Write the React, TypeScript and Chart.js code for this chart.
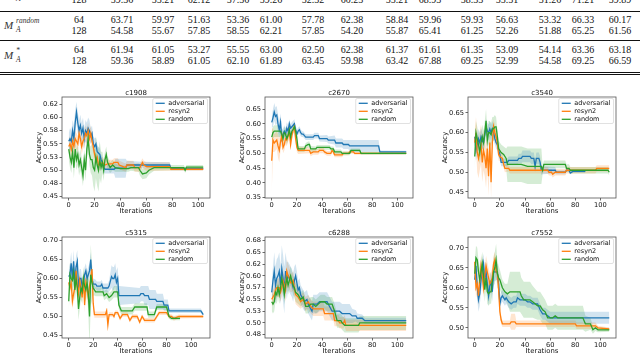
import React, { useEffect, useRef } from "react";
import { Chart, registerables } from "chart.js";

Chart.register(...registerables);

type P = [number, number, number]; // iteration, mean accuracy, half spread of band

// ---------------- table data ----------------
const tableCutRow128 = ["59.36", "55.21", "62.12", "57.36", "59.26", "52.32", "60.23", "55.21", "68.93", "58.33", "55.51", "51.26", "71.21", "59.89"];
const tableRandom64 = ["63.71", "59.97", "51.63", "53.36", "61.00", "57.78", "62.38", "58.84", "59.96", "59.93", "56.63", "53.32", "66.33", "60.17"];
const tableRandom128 = ["54.58", "55.67", "57.85", "58.55", "62.21", "57.85", "54.20", "55.87", "65.41", "61.25", "52.26", "51.88", "65.25", "61.56"];
const tableStar64 = ["61.94", "61.05", "53.27", "55.55", "63.00", "62.50", "62.38", "61.37", "61.61", "61.35", "53.09", "54.14", "63.36", "63.18"];
const tableStar128 = ["59.36", "58.89", "61.05", "62.10", "61.89", "63.45", "59.98", "63.42", "67.88", "69.25", "52.99", "54.58", "69.25", "66.59"];
const tableSizes = ["64", "128"];

// ---------------- chart data ----------------
const seriesNames = ["adversarial", "resyn2", "random"];
const seriesColors = ["#1f77b4", "#ff7f0e", "#2ca02c"];
const xTickValues = [0, 20, 40, 60, 80, 100];

const c1908Adversarial: P[] = [[0,.555,.015],[1,.56,.02],[2,.555,.02],[3,.575,.02],[4,.56,.025],[5,.59,.025],[6,.61,.02],[7,.59,.02],[8,.575,.02],[9,.585,.02],[10,.57,.02],[11,.58,.02],[12,.56,.02],[13,.575,.02],[14,.57,.02],[15,.58,.02],[16,.575,.02],[17,.565,.015],[18,.57,.015],[19,.55,.015],[20,.545,.015],[21,.55,.012],[22,.535,.012],[24,.53,.012],[25,.52,.01],[26,.515,.01],[27,.505,.01],[28,.502,.008],[35,.502,.008],[36,.504,.018],[44,.504,.018],[45,.51,.008],[56,.51,.006],[57,.51,.006],[78,.51,.005],[79,.503,.003],[104,.503,.003]];
const c1908Resyn2: P[] = [[0,.545,.015],[1,.55,.015],[2,.54,.015],[3,.555,.015],[4,.545,.015],[5,.56,.015],[6,.555,.015],[7,.55,.015],[8,.57,.015],[9,.56,.015],[10,.545,.015],[11,.555,.015],[12,.56,.015],[13,.57,.015],[14,.565,.015],[15,.575,.015],[16,.56,.015],[17,.57,.015],[18,.555,.012],[19,.545,.012],[20,.53,.012],[21,.52,.01],[22,.525,.01],[23,.51,.01],[24,.51,.01],[26,.515,.01],[28,.51,.008],[30,.512,.008],[34,.512,.008],[35,.515,.008],[38,.515,.008],[39,.51,.008],[44,.505,.008],[45,.51,.008],[50,.51,.008],[51,.505,.008],[55,.505,.008],[56,.51,.008],[57,.515,.008],[58,.51,.008],[60,.507,.008],[78,.507,.008],[79,.502,.003],[104,.502,.003]];
const c1908Random: P[] = [[0,.54,.02],[1,.525,.02],[2,.515,.02],[3,.535,.02],[4,.505,.02],[5,.54,.02],[6,.52,.02],[7,.53,.02],[8,.51,.02],[9,.52,.02],[10,.505,.02],[11,.49,.02],[12,.52,.02],[13,.50,.02],[14,.54,.02],[15,.56,.02],[16,.53,.02],[17,.52,.025],[18,.52,.03],[19,.505,.035],[20,.50,.04],[21,.525,.04],[22,.51,.04],[23,.50,.04],[24,.52,.035],[25,.505,.03],[26,.515,.02],[27,.50,.02],[28,.52,.015],[29,.53,.015],[30,.515,.012],[32,.505,.01],[34,.51,.01],[36,.505,.008],[40,.503,.006],[46,.503,.006],[48,.505,.006],[54,.505,.008],[55,.50,.01],[57,.493,.01],[60,.495,.01],[62,.50,.008],[66,.505,.006],[80,.505,.005],[89,.505,.005],[90,.50,.005],[91,.506,.004],[104,.506,.004]];

const c2670Adversarial: P[] = [[0,.605,.02],[1,.62,.03],[2,.64,.03],[3,.625,.03],[4,.63,.03],[5,.60,.03],[6,.58,.03],[7,.605,.03],[8,.55,.03],[9,.565,.02],[10,.575,.02],[11,.565,.02],[12,.585,.02],[13,.575,.02],[14,.60,.015],[15,.585,.015],[16,.59,.015],[17,.595,.015],[18,.60,.015],[19,.58,.015],[20,.565,.015],[21,.575,.012],[22,.58,.012],[23,.57,.012],[24,.565,.01],[25,.565,.01],[27,.555,.01],[33,.555,.01],[34,.56,.01],[37,.56,.01],[38,.55,.01],[44,.55,.012],[45,.545,.012],[50,.545,.015],[51,.535,.015],[56,.535,.015],[57,.53,.015],[61,.53,.015],[62,.525,.02],[85,.525,.02],[86,.505,.005],[107,.505,.004]];
const c2670Resyn2: P[] = [[0,.475,.11],[1,.545,.04],[2,.535,.03],[3,.54,.03],[4,.545,.03],[5,.525,.04],[6,.51,.04],[7,.54,.03],[8,.56,.02],[9,.52,.02],[10,.53,.02],[11,.55,.02],[12,.545,.02],[13,.56,.02],[14,.575,.02],[15,.53,.02],[16,.56,.02],[17,.58,.015],[18,.59,.015],[19,.55,.015],[20,.52,.015],[21,.51,.012],[30,.51,.01],[31,.50,.01],[33,.505,.01],[37,.505,.01],[38,.51,.01],[41,.51,.01],[42,.505,.008],[44,.50,.008],[47,.50,.008],[48,.51,.008],[49,.505,.008],[50,.495,.008],[56,.495,.008],[57,.50,.006],[61,.50,.006],[62,.505,.006],[65,.505,.006],[66,.50,.005],[107,.50,.004]];
const c2670Random: P[] = [[0,.555,.02],[1,.57,.02],[2,.575,.02],[7,.575,.02],[8,.565,.02],[9,.55,.02],[10,.57,.02],[11,.565,.02],[12,.55,.02],[13,.56,.02],[14,.58,.02],[15,.555,.02],[16,.575,.015],[17,.58,.015],[18,.59,.015],[19,.575,.015],[20,.55,.015],[21,.515,.01],[26,.515,.01],[27,.525,.01],[29,.53,.01],[30,.53,.01],[31,.515,.01],[35,.515,.008],[36,.52,.008],[46,.52,.008],[47,.515,.008],[49,.515,.008],[50,.505,.008],[55,.505,.008],[56,.50,.006],[62,.50,.006],[63,.51,.006],[70,.51,.006],[71,.50,.005],[107,.50,.004]];

const c3540Adversarial: P[] = [[0,.59,.02],[1,.555,.025],[2,.57,.025],[3,.585,.025],[4,.575,.025],[5,.59,.02],[6,.58,.02],[7,.575,.02],[8,.595,.02],[9,.615,.02],[10,.605,.02],[11,.60,.02],[12,.61,.02],[13,.60,.02],[14,.61,.02],[15,.60,.02],[16,.585,.015],[17,.575,.015],[18,.57,.015],[19,.555,.015],[20,.545,.012],[21,.525,.01],[26,.525,.01],[27,.53,.01],[34,.53,.01],[35,.535,.012],[37,.535,.012],[38,.54,.015],[44,.54,.015],[45,.535,.015],[47,.535,.015],[48,.515,.015],[49,.535,.015],[51,.535,.015],[52,.525,.015],[53,.505,.012],[54,.505,.01],[64,.505,.008],[65,.50,.005],[72,.50,.005],[73,.505,.004],[75,.505,.004],[76,.498,.003],[78,.502,.003],[88,.502,.003]];
const c3540Resyn2: P[] = [[0,.575,.03],[1,.60,.04],[2,.55,.05],[3,.535,.05],[4,.555,.05],[5,.57,.05],[6,.525,.05],[7,.555,.05],[8,.54,.05],[9,.51,.05],[10,.56,.05],[11,.49,.05],[12,.575,.04],[13,.475,.04],[14,.575,.03],[15,.615,.02],[16,.60,.02],[17,.59,.02],[18,.575,.015],[19,.545,.015],[20,.54,.012],[22,.535,.012],[23,.52,.01],[24,.51,.01],[27,.51,.008],[28,.505,.008],[58,.505,.008],[59,.50,.008],[61,.50,.008],[62,.495,.008],[64,.50,.008],[72,.50,.008],[73,.505,.008],[96,.505,.008],[97,.51,.008],[107,.51,.008]];
const c3540Random: P[] = [[0,.54,.03],[1,.60,.03],[2,.585,.03],[3,.57,.03],[4,.55,.03],[5,.575,.03],[6,.59,.03],[7,.575,.03],[8,.60,.03],[9,.63,.03],[10,.58,.03],[11,.60,.03],[12,.60,.03],[13,.595,.03],[14,.61,.03],[15,.61,.03],[16,.615,.03],[17,.615,.025],[18,.59,.02],[19,.56,.02],[20,.555,.02],[21,.55,.02],[23,.545,.02],[25,.535,.025],[26,.52,.045],[36,.52,.045],[37,.52,.045],[42,.515,.045],[53,.515,.045],[54,.505,.01],[55,.52,.01],[72,.52,.01],[73,.51,.01],[75,.51,.01],[76,.505,.008],[106,.505,.008],[107,.50,.008]];

const c5315Adversarial: P[] = [[0,.605,.02],[1,.61,.03],[2,.64,.03],[3,.60,.03],[4,.645,.03],[5,.59,.03],[6,.63,.03],[7,.645,.03],[8,.58,.03],[9,.60,.025],[10,.60,.025],[11,.58,.02],[12,.59,.02],[13,.61,.02],[14,.62,.02],[15,.60,.02],[16,.61,.02],[17,.62,.02],[18,.65,.02],[19,.60,.015],[20,.585,.015],[22,.585,.012],[23,.58,.012],[26,.58,.012],[27,.585,.012],[28,.575,.012],[32,.575,.012],[33,.58,.015],[35,.605,.03],[36,.60,.03],[37,.60,.03],[38,.61,.03],[39,.59,.03],[40,.60,.03],[41,.555,.025],[58,.555,.02],[59,.56,.02],[61,.56,.02],[62,.555,.025],[65,.555,.025],[66,.545,.025],[71,.545,.025],[72,.54,.02],[77,.54,.02],[78,.53,.015],[81,.53,.015],[82,.515,.006],[108,.515,.006],[110,.505,.004]];
const c5315Resyn2: P[] = [[0,.59,.015],[1,.575,.015],[2,.59,.015],[3,.54,.02],[4,.56,.02],[5,.575,.02],[6,.62,.02],[7,.58,.02],[8,.56,.02],[9,.595,.02],[10,.575,.02],[11,.55,.02],[12,.60,.02],[13,.53,.02],[14,.59,.02],[15,.575,.02],[16,.55,.02],[17,.58,.02],[18,.60,.02],[19,.625,.02],[20,.535,.01],[21,.505,.008],[30,.505,.008],[31,.515,.008],[32,.478,.006],[33,.505,.006],[36,.505,.006],[37,.50,.006],[38,.51,.006],[40,.51,.006],[42,.495,.006],[44,.505,.006],[48,.505,.006],[50,.49,.006],[52,.50,.006],[56,.50,.006],[58,.485,.006],[60,.50,.006],[62,.49,.006],[70,.49,.006],[72,.50,.006],[74,.51,.006],[80,.51,.006],[82,.50,.006],[84,.50,.006],[86,.495,.006],[90,.50,.005],[110,.50,.004]];
const c5315Random: P[] = [[0,.54,.03],[1,.61,.03],[2,.60,.03],[3,.595,.03],[4,.615,.03],[5,.57,.03],[6,.60,.03],[7,.575,.03],[8,.52,.03],[9,.55,.03],[10,.575,.03],[11,.565,.03],[12,.60,.03],[13,.58,.03],[14,.57,.03],[15,.59,.03],[16,.56,.05],[17,.50,.08],[18,.61,.08],[19,.59,.05],[20,.575,.02],[21,.57,.015],[22,.565,.012],[28,.565,.012],[29,.555,.012],[31,.56,.012],[33,.55,.012],[35,.555,.012],[37,.565,.015],[40,.565,.015],[41,.53,.012],[43,.515,.01],[52,.515,.01],[54,.525,.01],[62,.525,.01],[64,.525,.01],[65,.505,.008],[70,.505,.008],[72,.525,.008],[80,.525,.008],[82,.50,.006],[84,.495,.005],[91,.495,.005]];

const c6288Adversarial: P[] = [[0,.565,.02],[1,.59,.03],[2,.61,.04],[3,.58,.04],[4,.595,.04],[5,.60,.04],[6,.61,.04],[7,.58,.04],[8,.615,.05],[9,.595,.05],[10,.57,.05],[11,.61,.04],[12,.59,.04],[13,.60,.03],[14,.595,.03],[15,.59,.03],[16,.585,.03],[17,.575,.03],[18,.59,.03],[19,.60,.025],[20,.585,.025],[21,.57,.02],[22,.575,.02],[23,.56,.02],[24,.555,.02],[26,.545,.02],[28,.55,.02],[29,.54,.02],[30,.535,.02],[32,.525,.02],[33,.54,.02],[36,.54,.02],[38,.545,.02],[44,.545,.02],[46,.535,.02],[48,.525,.02],[54,.525,.02],[56,.52,.02],[62,.52,.02],[64,.515,.015],[67,.515,.012],[68,.51,.01],[72,.51,.008],[74,.505,.006],[107,.505,.006]];
const c6288Resyn2: P[] = [[0,.55,.015],[1,.555,.015],[2,.56,.015],[3,.57,.02],[4,.575,.02],[6,.575,.02],[7,.565,.02],[8,.575,.02],[9,.59,.02],[10,.58,.02],[11,.57,.025],[12,.61,.025],[13,.60,.025],[14,.595,.025],[15,.585,.02],[16,.585,.02],[17,.59,.02],[18,.575,.02],[19,.56,.02],[21,.555,.02],[23,.545,.015],[25,.55,.015],[27,.54,.015],[29,.545,.015],[31,.535,.015],[33,.53,.015],[41,.53,.015],[42,.52,.015],[49,.52,.015],[50,.505,.012],[53,.505,.012],[54,.50,.012],[57,.50,.012],[58,.505,.012],[59,.495,.012],[107,.495,.012]];
const c6288Random: P[] = [[0,.545,.02],[1,.54,.02],[2,.545,.02],[3,.565,.02],[4,.56,.02],[5,.575,.02],[6,.56,.02],[7,.575,.02],[8,.595,.02],[9,.58,.02],[10,.56,.02],[11,.58,.02],[12,.595,.02],[13,.58,.02],[14,.59,.02],[15,.60,.02],[16,.59,.02],[17,.58,.02],[18,.575,.02],[19,.565,.02],[21,.56,.02],[23,.55,.015],[25,.555,.015],[27,.535,.015],[29,.535,.015],[31,.54,.015],[33,.54,.015],[35,.535,.015],[37,.54,.015],[39,.545,.015],[42,.545,.015],[44,.54,.015],[48,.54,.015],[50,.525,.015],[52,.505,.015],[55,.505,.015],[56,.50,.015],[58,.495,.015],[69,.495,.015],[70,.50,.015],[107,.50,.015]];

const c7552Adversarial: P[] = [[0,.62,.02],[1,.655,.03],[2,.60,.03],[3,.57,.03],[4,.585,.03],[5,.62,.03],[6,.64,.03],[7,.66,.025],[8,.62,.025],[9,.64,.025],[10,.61,.025],[11,.58,.025],[12,.605,.025],[13,.615,.025],[14,.59,.025],[15,.64,.025],[18,.64,.02],[19,.61,.02],[20,.56,.02],[21,.575,.015],[22,.58,.015],[23,.575,.015],[24,.57,.015],[25,.575,.015],[27,.565,.015],[29,.56,.015],[31,.565,.015],[33,.565,.015],[34,.575,.015],[36,.57,.015],[40,.57,.015],[42,.565,.015],[44,.565,.015],[46,.56,.015],[50,.56,.015],[52,.545,.015],[54,.535,.015],[56,.535,.015],[58,.53,.015],[60,.525,.015],[107,.525,.015]];
const c7552Resyn2: P[] = [[0,.665,.02],[1,.60,.025],[2,.61,.025],[3,.58,.025],[4,.62,.025],[5,.655,.025],[6,.63,.025],[7,.60,.025],[8,.63,.025],[9,.655,.025],[10,.64,.025],[11,.625,.025],[12,.61,.025],[13,.615,.025],[14,.625,.025],[15,.66,.02],[16,.67,.02],[17,.64,.02],[18,.64,.02],[19,.595,.02],[20,.54,.015],[21,.52,.01],[22,.51,.008],[28,.51,.008],[29,.515,.02],[32,.515,.02],[33,.51,.008],[80,.51,.008],[81,.505,.008],[96,.505,.008],[98,.50,.005],[107,.497,.004]];
const c7552Random: P[] = [[0,.635,.03],[1,.675,.03],[2,.67,.03],[3,.64,.03],[4,.62,.03],[5,.64,.03],[6,.66,.03],[7,.63,.03],[8,.595,.03],[9,.625,.03],[10,.59,.03],[11,.585,.03],[12,.59,.03],[13,.59,.03],[14,.615,.03],[15,.64,.035],[16,.65,.04],[17,.67,.04],[18,.635,.035],[19,.625,.03],[20,.62,.025],[22,.60,.02],[24,.59,.02],[26,.585,.025],[28,.59,.05],[36,.59,.05],[37,.58,.045],[39,.57,.045],[44,.57,.045],[46,.565,.04],[50,.555,.035],[52,.555,.035],[54,.545,.035],[56,.54,.03],[58,.525,.03],[62,.525,.03],[64,.53,.03],[66,.525,.03],[86,.525,.03],[88,.51,.02],[92,.51,.015],[94,.495,.01],[96,.50,.008],[98,.495,.006],[107,.495,.005]];

const c1908YTicks = [0.45, 0.475, 0.5, 0.525, 0.55, 0.575, 0.6, 0.625];
const c1908YLabels = ["0.45", "0.48", "0.50", "0.53", "0.55", "0.58", "0.60", "0.62"];
const c2670YTicks = [0.35, 0.4, 0.45, 0.5, 0.55, 0.6, 0.65];
const c2670YLabels = ["0.35", "0.40", "0.45", "0.50", "0.55", "0.60", "0.65"];
const c3540YTicks = [0.45, 0.5, 0.55, 0.6, 0.65];
const c3540YLabels = ["0.45", "0.50", "0.55", "0.60", "0.65"];
const c5315YTicks = [0.45, 0.5, 0.55, 0.6, 0.65, 0.7];
const c5315YLabels = ["0.45", "0.50", "0.55", "0.60", "0.65", "0.70"];
const c6288YTicks = [0.475, 0.5, 0.525, 0.55, 0.575, 0.6, 0.625, 0.65, 0.675];
const c6288YLabels = ["0.48", "0.50", "0.53", "0.55", "0.57", "0.60", "0.62", "0.65", "0.68"];
const c7552YTicks = [0.5, 0.55, 0.6, 0.65, 0.7];
const c7552YLabels = ["0.50", "0.55", "0.60", "0.65", "0.70"];

// ---------------- layout ----------------
type Box = { l: number; t: number; r: number; b: number };
type Spec = {
  title: string; box: Box; xMin: number; xMax: number; yMin: number; yMax: number;
  yTicks: number[]; yLabels: string[]; series: P[][];
};

const panels: Spec[] = [
  { title: "c1908", box: { l: 62, t: 97, r: 210, b: 198 }, xMin: -5.2, xMax: 109.2, yMin: 0.4475, yMax: 0.6388, yTicks: c1908YTicks, yLabels: c1908YLabels, series: [c1908Adversarial, c1908Resyn2, c1908Random] },
  { title: "c2670", box: { l: 265, t: 97, r: 413, b: 198 }, xMin: -5.35, xMax: 112.35, yMin: 0.349, yMax: 0.6906, yTicks: c2670YTicks, yLabels: c2670YLabels, series: [c2670Adversarial, c2670Resyn2, c2670Random] },
  { title: "c3540", box: { l: 468, t: 97, r: 616, b: 198 }, xMin: -5.35, xMax: 112.35, yMin: 0.4348, yMax: 0.6905, yTicks: c3540YTicks, yLabels: c3540YLabels, series: [c3540Adversarial, c3540Resyn2, c3540Random] },
  { title: "c5315", box: { l: 62, t: 237, r: 210, b: 338 }, xMin: -5.5, xMax: 115.5, yMin: 0.4434, yMax: 0.7092, yTicks: c5315YTicks, yLabels: c5315YLabels, series: [c5315Adversarial, c5315Resyn2, c5315Random] },
  { title: "c6288", box: { l: 265, t: 237, r: 413, b: 338 }, xMin: -5.35, xMax: 112.35, yMin: 0.4681, yMax: 0.6824, yTicks: c6288YTicks, yLabels: c6288YLabels, series: [c6288Adversarial, c6288Resyn2, c6288Random] },
  { title: "c7552", box: { l: 468, t: 237, r: 616, b: 338 }, xMin: -5.35, xMax: 112.35, yMin: 0.4745, yMax: 0.727, yTicks: c7552YTicks, yLabels: c7552YLabels, series: [c7552Adversarial, c7552Resyn2, c7552Random] },
];

const SANS = '"DejaVu Sans", sans-serif';
const TEXT = "#111";

function rgba(hex: string, a: number) {
  const n = parseInt(hex.slice(1), 16);
  return `rgba(${(n >> 16) & 255},${(n >> 8) & 255},${n & 255},${a})`;
}

function Panel({ spec }: { spec: Spec }) {
  const ref = useRef<HTMLCanvasElement>(null);
  const padL = 2, yW = 29, padT = 12, padR = 10, xH = 17;
  const { box } = spec;
  const cw = box.r - box.l + padL + yW + padR;
  const ch = box.b - box.t + padT + xH;

  useEffect(() => {
    if (!ref.current) return;
    const datasets: any[] = [];
    spec.series.forEach((pts, i) => {
      datasets.push({
        data: pts.map((p) => ({ x: p[0], y: p[1] - p[2] })),
        borderColor: "rgba(0,0,0,0)", borderWidth: 0, pointRadius: 0, fill: false, order: 10,
      });
      datasets.push({
        data: pts.map((p) => ({ x: p[0], y: p[1] + p[2] })),
        borderColor: "rgba(0,0,0,0)", borderWidth: 0, pointRadius: 0,
        fill: "-1", backgroundColor: rgba(seriesColors[i], 0.2), order: 10,
      });
    });
    spec.series.forEach((pts, i) => {
      datasets.push({
        data: pts.map((p) => ({ x: p[0], y: p[1] })),
        borderColor: seriesColors[i], borderWidth: 1.3, pointRadius: 0, fill: false,
        tension: 0, order: 2 - i,
      });
    });

    const deco = {
      id: "deco",
      afterDraw(chart: any) {
        const { ctx, chartArea: a } = chart;
        ctx.save();
        // frame
        ctx.strokeStyle = "#555";
        ctx.lineWidth = 0.8;
        ctx.strokeRect(a.left, a.top, a.right - a.left, a.bottom - a.top);
        // title
        ctx.fillStyle = TEXT;
        ctx.font = `7px ${SANS}`;
        ctx.textAlign = "center";
        ctx.textBaseline = "alphabetic";
        ctx.fillText(spec.title, (a.left + a.right) / 2, a.top - 2);
        // legend
        ctx.font = `6.5px ${SANS}`;
        let tw = 0;
        seriesNames.forEach((n) => (tw = Math.max(tw, ctx.measureText(n).width)));
        const bw = 3 + 9 + 3.5 + tw + 3;
        const bh = 25;
        const bx = a.right - 2.5 - bw;
        const by = a.top + 1.5;
        ctx.beginPath();
        (ctx as any).roundRect ? (ctx as any).roundRect(bx, by, bw, bh, 1.5) : ctx.rect(bx, by, bw, bh);
        ctx.fillStyle = "rgba(255,255,255,0.8)";
        ctx.fill();
        ctx.strokeStyle = "#cccccc";
        ctx.lineWidth = 0.6;
        ctx.stroke();
        seriesNames.forEach((n, i) => {
          const yy = by + 4.8 + i * 8;
          ctx.strokeStyle = seriesColors[i];
          ctx.lineWidth = 1.3;
          ctx.beginPath();
          ctx.moveTo(bx + 3, yy);
          ctx.lineTo(bx + 12, yy);
          ctx.stroke();
          ctx.fillStyle = TEXT;
          ctx.textAlign = "left";
          ctx.textBaseline = "middle";
          ctx.fillText(n, bx + 15.5, yy + 0.3);
        });
        ctx.restore();
      },
    };

    const tickFont = { family: SANS, size: 6.7 };
    const labelFont = { family: SANS, size: 6.9 };
    const grid = { display: true, drawOnChartArea: false, drawTicks: true, tickLength: 2.5, color: "#444", lineWidth: 0.8 };

    const chart = new Chart(ref.current, {
      type: "line",
      data: { datasets },
      options: {
        animation: false,
        responsive: false,
        devicePixelRatio: 1,
        events: [],
        layout: { padding: { left: padL, top: padT, right: padR, bottom: 0 } },
        plugins: {
          legend: { display: false },
          tooltip: { enabled: false },
          title: { display: false },
          filler: { drawTime: "beforeDatasetsDraw" },
        },
        scales: {
          x: {
            type: "linear",
            min: spec.xMin,
            max: spec.xMax,
            afterBuildTicks: (s: any) => { s.ticks = xTickValues.map((v) => ({ value: v })); },
            afterFit: (s: any) => { s.height = xH; },
            ticks: { autoSkip: false, maxRotation: 0, padding: 0.5, font: tickFont, color: TEXT, callback: (v: any) => String(v) },
            grid,
            border: { display: false },
            title: { display: true, text: "Iterations", font: labelFont, color: TEXT, padding: { top: 0, bottom: 0 } },
          },
          y: {
            type: "linear",
            min: spec.yMin,
            max: spec.yMax,
            afterBuildTicks: (s: any) => { s.ticks = spec.yTicks.map((v) => ({ value: v })); },
            afterFit: (s: any) => { s.width = yW; },
            ticks: { autoSkip: false, padding: 1.5, font: tickFont, color: TEXT, callback: (_v: any, i: number) => spec.yLabels[i] },
            grid,
            border: { display: false },
            title: { display: true, text: "Accuracy", font: labelFont, color: TEXT, padding: { top: 2.5, bottom: 0 } },
          },
        },
      } as any,
      plugins: [deco],
    });
    return () => chart.destroy();
  }, []);

  return (
    <canvas
      ref={ref}
      width={cw}
      height={ch}
      style={{ position: "absolute", left: box.l - padL - yW, top: box.t - padT, width: cw, height: ch }}
    />
  );
}

// ---------------- table ----------------
const colX = [122, 163, 199, 238, 271, 313, 352, 397, 430, 472, 507, 550, 583, 620];
const sizeX = 79;

function Row({ y, size, vals }: { y: number; size: string; vals: string[] }) {
  const cell = (x: number, t: string, k: string | number) => (
    <div key={k} style={{ position: "absolute", left: x, top: y, transform: "translate(-50%,-50%)", whiteSpace: "nowrap", lineHeight: 1 }}>{t}</div>
  );
  return (
    <>
      {cell(sizeX, size, "s")}
      {vals.map((v, i) => cell(colX[i], v, i))}
    </>
  );
}

function MLabel({ y, sup }: { y: number; sup: string }) {
  return (
    <div style={{ position: "absolute", left: 4, top: y, transform: "translateY(-50%)", lineHeight: 1, whiteSpace: "nowrap", color: "#333" }}>
      <span style={{ fontStyle: "italic", fontSize: 11 }}>M</span>
      <span style={{ position: "absolute", left: 12, top: -2.5, fontStyle: "italic", fontSize: 7.5 }}>{sup}</span>
      <span style={{ position: "absolute", left: 12, top: 6, fontStyle: "italic", fontSize: 7.5 }}>A</span>
    </div>
  );
}

function Rule({ y, h }: { y: number; h: number }) {
  return <div style={{ position: "absolute", left: 0, top: y, width: 640, height: h, background: "#111" }} />;
}

function Table() {
  return (
    <div style={{ position: "absolute", left: 0, top: 0, width: 640, height: 80, fontFamily: '"Liberation Serif", serif', fontSize: 10, color: "#111" }}>
      <MLabel y={-6} sup="" />
      <Row y={0} size={tableSizes[1]} vals={tableCutRow128} />
      <Rule y={10.5} h={1} />
      <MLabel y={24.5} sup="random" />
      <Row y={20} size={tableSizes[0]} vals={tableRandom64} />
      <Row y={31} size={tableSizes[1]} vals={tableRandom128} />
      <Rule y={40} h={0.8} />
      <MLabel y={54.5} sup="*" />
      <Row y={49.5} size={tableSizes[0]} vals={tableStar64} />
      <Row y={60.5} size={tableSizes[1]} vals={tableStar128} />
      <Rule y={71.5} h={0.8} />
      <Rule y={73.5} h={0.8} />
    </div>
  );
}

export default function App() {
  return (
    <div style={{ position: "absolute", left: 0, top: 0, width: 640, height: 353, overflow: "hidden", background: "#fff" }}>
      <Table />
      {panels.map((p) => (
        <Panel key={p.title} spec={p} />
      ))}
    </div>
  );
}
